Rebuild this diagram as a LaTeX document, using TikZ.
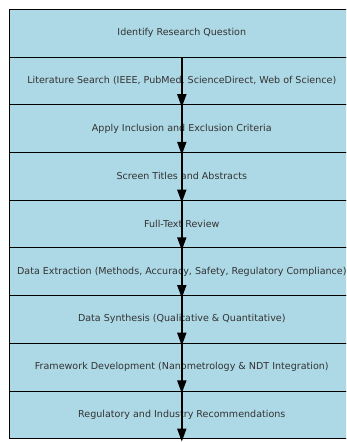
\documentclass[tikz,border=0pt]{standalone}
\usepackage{fontspec}
\setmainfont{DejaVu Sans}
\usetikzlibrary{arrows.meta,positioning}
\definecolor{boxfill}{HTML}{ADD8E6}
\definecolor{txt}{HTML}{333333}
\tikzset{
  stage/.style={draw=black, line width=0.7pt, fill=boxfill, minimum width=345pt,
    minimum height=47.7pt, inner sep=0pt, outer sep=0pt, text=txt,
    font=\fontsize{9.55pt}{11pt}\selectfont},
  flow/.style={line width=1.8pt, -{Triangle[width=9pt,length=13pt]}}
}
\begin{document}
\begin{tikzpicture}[x=1pt,y=1pt]
\useasboundingbox (0,0) rectangle (346,-442);
\clip (0,0) rectangle (346,-442);
\fill[white] (0,0) rectangle (346,-442);
\node[stage] (b1) at (181.8,-33.15) {Identify Research Question};
\node[stage, below=0pt of b1] (b2) {Literature Search (IEEE, PubMed, ScienceDirect, Web of Science)};
\node[stage, below=0pt of b2] (b3) {Apply Inclusion and Exclusion Criteria};
\node[stage, below=0pt of b3] (b4) {Screen Titles and Abstracts};
\node[stage, below=0pt of b4] (b5) {Full-Text Review};
\node[stage, below=0pt of b5] (b6) {Data Extraction (Methods, Accuracy, Safety, Regulatory Compliance)};
\node[stage, below=0pt of b6] (b7) {Data Synthesis (Qualitative \& Quantitative)};
\node[stage, below=0pt of b7] (b8) {Framework Development (Nanometrology \& NDT Integration)};
\node[stage, below=0pt of b8] (b9) {Regulatory and Industry Recommendations};
\coordinate (e9) at ([yshift=-3pt]b9.south);
\draw[flow] (b1.south) -- ([yshift=-2.5pt]b2.south);
\draw[flow] (b2.south) -- ([yshift=-2.5pt]b3.south);
\draw[flow] (b3.south) -- ([yshift=-2.5pt]b4.south);
\draw[flow] (b4.south) -- ([yshift=-2.5pt]b5.south);
\draw[flow] (b5.south) -- ([yshift=-2.5pt]b6.south);
\draw[flow] (b6.south) -- ([yshift=-2.5pt]b7.south);
\draw[flow] (b7.south) -- ([yshift=-2.5pt]b8.south);
\draw[flow] (b8.south) -- (e9);
\end{tikzpicture}
\end{document}
